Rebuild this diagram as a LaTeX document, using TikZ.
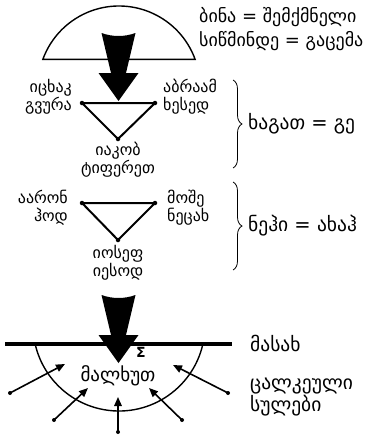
\documentclass[tikz,border=0pt]{standalone}
\usepackage{fontspec}
\setmainfont{DejaVu Sans}
\usetikzlibrary{arrows.meta,decorations.pathreplacing}
\begin{document}
\begin{tikzpicture}[x=1pt,y=1pt,
  lbl/.style={font=\fontsize{16}{18}\selectfont, inner sep=0pt},
  big/.style={font=\fontsize{19.5}{22}\selectfont, inner sep=0pt, anchor=west},
  topt/.style={font=\fontsize{18}{22}\selectfont, inner sep=0pt, anchor=west},
  tri/.style={line width=2pt, line join=round},
  dot/.style={circle, fill=black, inner sep=0pt, minimum size=4.5pt},
  sdot/.style={circle, fill=black, inner sep=0pt, minimum size=4pt},
  small/.style={line width=1.6pt, -{Triangle[length=9pt,width=7.5pt]}, shorten <=-1pt},
  seg/.style={line width=1.4pt},
  curly/.style={decorate, decoration={brace, amplitude=9pt}, line width=0.8pt},
  pics/bigarrow/.style={code={\fill (-17,0) .. controls (-6,-4) and (6,-4) .. (17,0) -- (7.5,-40) -- (20,-40) -- (0,-68) -- (-20,-40) -- (-7.5,-40) -- cycle;}}
]
\useasboundingbox (0,0) rectangle (369,-439);

% top segment and arrow
\draw[seg, fill=white] (195.1,-59.3) arc[start angle=20, end angle=160, radius=81] -- cycle;
\pic at (118.5,-33) {bigarrow};

\node[topt] (bina) at (199,-17) {ბინა = შემქმნელი};
\node[topt] (sits) at (199,-41) {სიწმინდე = გაცემა};

% first triangle
\node[dot] (a1) at (82,-103) {};
\node[dot] (b1) at (155,-103) {};
\node[dot] (c1) at (118,-139) {};
\draw[tri] (a1.center) -- (b1.center) -- (c1.center) -- cycle;
\node[lbl, align=right, anchor=east] (isaak) at (72,-97) {იცხაკ\\გვურა};
\node[lbl, align=left, anchor=west] (abraam) at (163,-97) {აბრაამ\\ხესედ};
\node[lbl, align=center, anchor=north] (iakob) at (118,-142) {იაკობ\\ტიფერეთ};
\coordinate (br1t) at (233,-80);
\coordinate (br1b) at (233,-168);
\draw[curly] (br1t) -- (br1b);
\node[big] (hagat) at (248,-124) {ხაგათ = გე};

% second triangle
\node[dot] (a2) at (82,-203) {};
\node[dot] (b2) at (155,-203) {};
\node[dot] (c2) at (118,-240) {};
\draw[tri] (a2.center) -- (b2.center) -- (c2.center) -- cycle;
\node[lbl, align=right, anchor=east] (aaron) at (68,-208) {აარონ\\ჰოდ};
\node[lbl, align=left, anchor=west] (moshe) at (167,-208) {მოშე\\ნეცახ};
\node[lbl, align=center, anchor=north] (iosef) at (118,-245) {იოსეფ\\იესოდ};
\coordinate (br2t) at (233,-182);
\coordinate (br2b) at (233,-270);
\draw[curly] (br2t) -- (br2b);
\node[big] (nehi) at (248,-226) {ნეჰი = ახაჰ};

% bottom
\draw[seg] (202.9,-344) arc[start angle=-12.76, end angle=-167.24, radius=86];
\coordinate (hl) at (5,-344);
\coordinate (hr) at (232,-344);
\draw[line width=3.5pt] (hl) -- (hr);
\pic at (118.5,-295) {bigarrow};
\node[font=\bfseries\fontsize{14}{16}\selectfont, inner sep=0pt] (sigma) at (141,-352) {Σ};
\node[font=\fontsize{19}{22}\selectfont, inner sep=0pt, anchor=base] (malhut) at (118,-381) {მალხუთ};
\node[big] (masah) at (250,-343) {მასახ};
\node[big, align=left] (sulebi) at (250,-397) {ცალკეული\\სულები};

\node[sdot] (s1) at (10,-393) {};
\node[sdot] (s2) at (54,-420) {};
\node[sdot] (s3) at (118,-432) {};
\node[sdot] (s4) at (182,-420) {};
\node[sdot] (s5) at (228,-393) {};
\coordinate (t1) at (65,-364);
\coordinate (t2) at (88,-388);
\coordinate (t3) at (118,-397);
\coordinate (t4) at (149,-388);
\coordinate (t5) at (173,-365);
\foreach \i in {1,...,5} {\draw[small] (s\i.center) -- (t\i);}
\end{tikzpicture}
\end{document}
